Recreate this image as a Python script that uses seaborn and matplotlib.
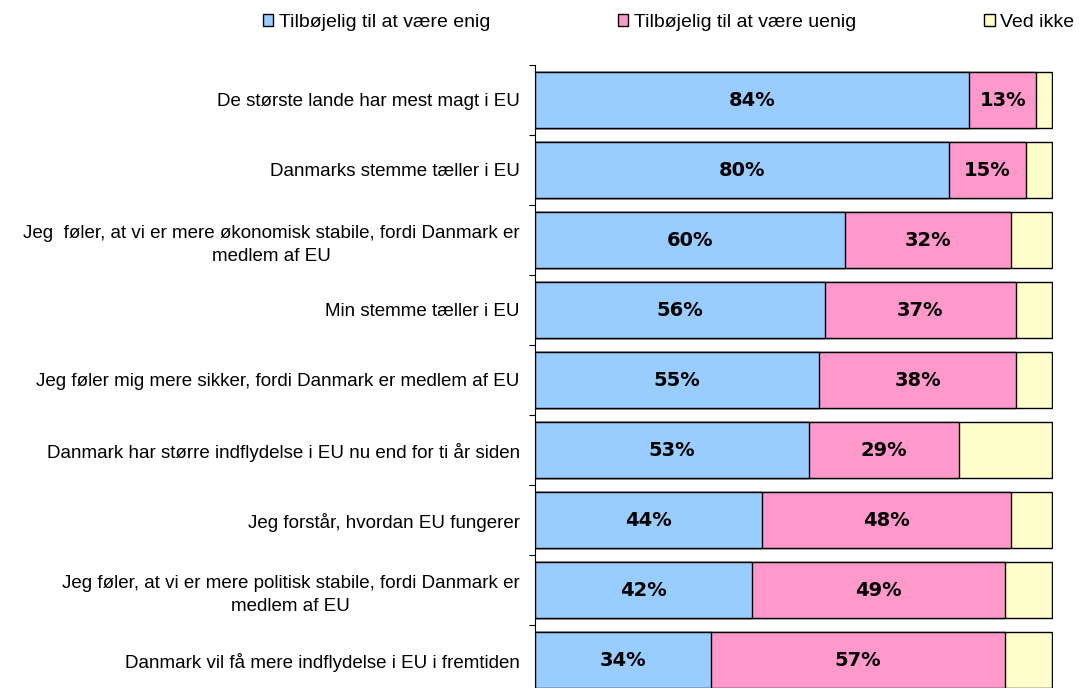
import numpy as np
import pandas as pd
import matplotlib
matplotlib.use("Agg")
import matplotlib.pyplot as plt
import seaborn as sns
from matplotlib.patches import Patch
from matplotlib.ticker import FixedLocator

# data
statements = [
    "De største lande har mest magt i EU",
    "Danmarks stemme tæller i EU",
    "Jeg  føler, at vi er mere økonomisk stabile, fordi Danmark er\nmedlem af EU",
    "Min stemme tæller i EU",
    "Jeg føler mig mere sikker, fordi Danmark er medlem af EU",
    "Danmark har større indflydelse i EU nu end for ti år siden",
    "Jeg forstår, hvordan EU fungerer",
    "Jeg føler, at vi er mere politisk stabile, fordi Danmark er\nmedlem af EU",
    "Danmark vil få mere indflydelse i EU i fremtiden",
]
agree = [84, 80, 60, 56, 55, 53, 44, 42, 34]
disagree = [13, 15, 32, 37, 38, 29, 48, 49, 57]
dont_know = [3, 5, 8, 7, 7, 18, 8, 9, 9]
series_names = ["Tilbøjelig til at være enig", "Tilbøjelig til at være uenig", "Ved ikke"]
colors = ["#99CCFF", "#FF99CC", "#FFFFCC"]

df = pd.DataFrame({"statement": statements, "agree": agree,
                   "disagree": disagree, "dont_know": dont_know})
df["c1"] = df["agree"]
df["c2"] = df["agree"] + df["disagree"]
df["c3"] = df["c2"] + df["dont_know"]

sns.set_style("white")
plt.rcParams["font.family"] = ["Liberation Sans", "DejaVu Sans"]

fig = plt.figure(figsize=(10.79, 6.88), dpi=100)
ax = fig.add_axes([535 / 1079, 0.0, 518 / 1079, 1 - 65 / 688])

# stacked bars, drawn from the total down
for col, c in zip(["c3", "c2", "c1"], colors[::-1]):
    sns.barplot(data=df, x=col, y="statement", orient="h", color=c, saturation=1,
                width=0.81, edgecolor="black", linewidth=1.0, ax=ax)

# value labels inside agree / disagree segments
for i, row in df.iterrows():
    ax.text(row["agree"] / 2, i, f"{row['agree']}%", ha="center", va="center",
            fontsize=14, fontweight="bold", family="DejaVu Sans", color="black")
    ax.text(row["agree"] + row["disagree"] / 2, i, f"{row['disagree']}%",
            ha="center", va="center", fontsize=14, fontweight="bold",
            family="DejaVu Sans", color="black")

ax.set_xlim(0, 100.2)
ax.set_ylim(8.4, -0.5)
ax.set_xlabel("")
ax.set_ylabel("")
ax.set_xticks([])
ax.set_yticks(range(len(statements)))
ax.set_yticklabels(statements, ha="right", multialignment="center", fontsize=13.5,
                   color="black", linespacing=1.45)
ax.yaxis.set_minor_locator(FixedLocator(np.arange(-0.5, 9, 1)))
ax.tick_params(axis="y", which="major", length=0, pad=11)
ax.tick_params(axis="y", which="minor", length=4, width=0.8, direction="out", left=True,
               color="black")
for s in ["top", "right", "bottom"]:
    ax.spines[s].set_visible(False)
ax.spines["left"].set_color("black")
ax.spines["left"].set_linewidth(0.8)

handles = [Patch(facecolor=c, edgecolor="black", linewidth=1.0) for c in colors]
fig.legend(handles, series_names, loc="upper left", bbox_to_anchor=(245 / 1079, 1.005),
           ncol=3, frameon=False, fontsize=14, handlelength=0.55, handleheight=0.55,
           handletextpad=0.3, columnspacing=6.55, labelcolor="black")

fig.savefig("out.png", dpi=100)
